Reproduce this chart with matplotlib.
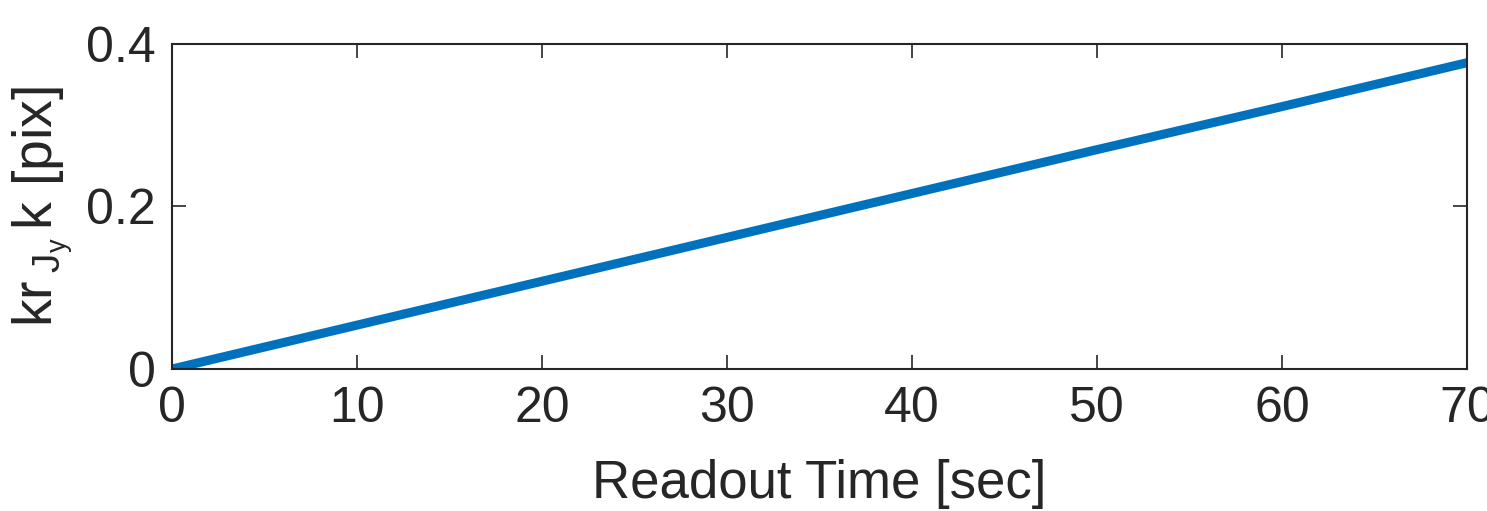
import numpy as np
import matplotlib.pyplot as plt

# values
readout_time = [0, 10, 20, 30, 40, 50, 60, 70]
shift_pix = [0, 0.054, 0.108, 0.162, 0.216, 0.270, 0.323, 0.377]

plt.rcParams['font.family'] = ['Liberation Sans', 'DejaVu Sans']
plt.rcParams['mathtext.fontset'] = 'custom'
plt.rcParams['mathtext.rm'] = 'Liberation Sans'
plt.rcParams['mathtext.it'] = 'Liberation Sans'

dark = '#262626'

fig = plt.figure(figsize=(14.87, 5.11), dpi=100)
ax = fig.add_axes([0.1157, 0.2779, 0.8709, 0.636])

ax.plot(readout_time, shift_pix, color='#0072BD', linewidth=6.5, solid_capstyle='butt')

ax.set_xlim(0, 70)
ax.set_ylim(0, 0.4)
ax.set_xticks(np.arange(0, 71, 10))
ax.set_yticks([0, 0.2, 0.4])
ax.set_yticklabels(['0', '0.2', '0.4'])

ax.tick_params(direction='in', top=True, right=True, length=10, width=1.2,
               colors=dark, labelsize=36)
ax.tick_params(axis='x', pad=12)
ax.tick_params(axis='y', pad=12)
for s in ax.spines.values():
    s.set_color(dark)
    s.set_linewidth(1.5)

ax.set_xlabel('Readout Time [sec]', fontsize=38, color=dark, labelpad=20)
ax.set_ylabel(r'kr$\,_{\mathrm{J_y}}\,$k [pix]', fontsize=40, color=dark, labelpad=8)

fig.savefig('out.png', dpi=100)
